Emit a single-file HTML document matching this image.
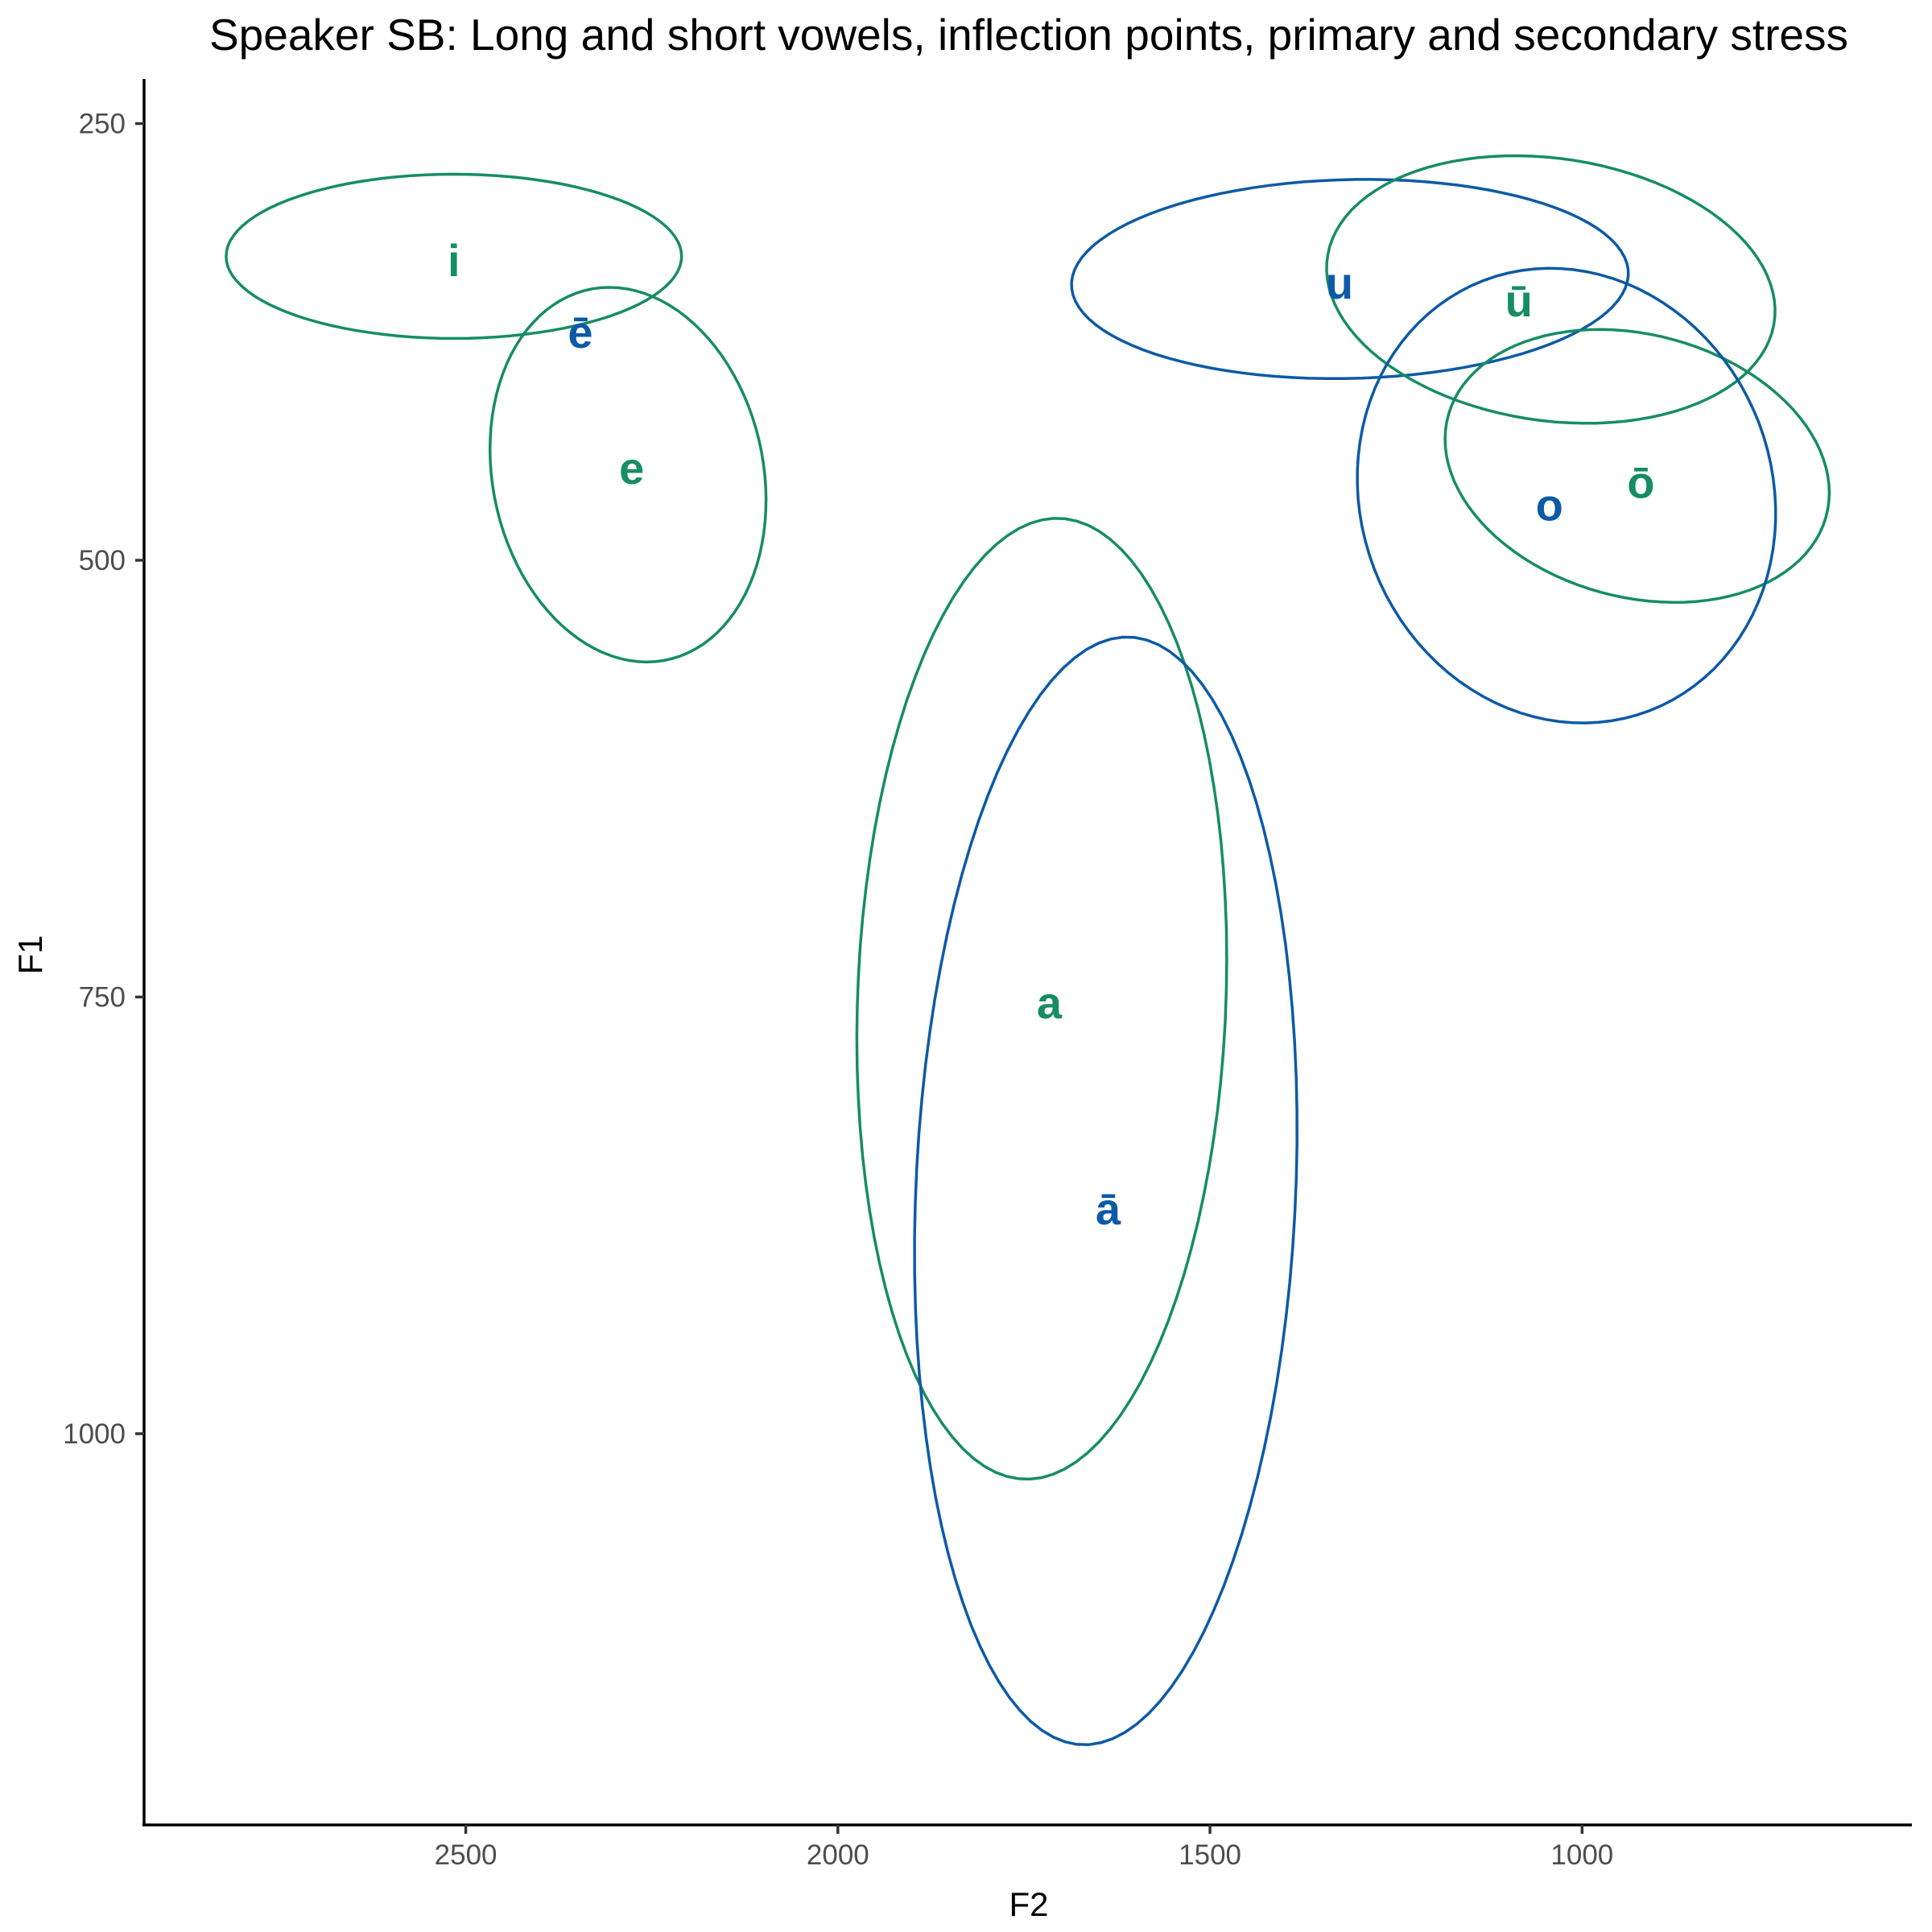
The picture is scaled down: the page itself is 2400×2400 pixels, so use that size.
<!DOCTYPE html>
<html>
<head>
<meta charset="utf-8">
<style>
html,body{margin:0;padding:0;background:#fff;}
svg{display:block;font-family:"Liberation Sans",Arial,sans-serif;}
</style>
</head>
<body>
<svg id="chart" width="2400" height="2400" viewBox="0 0 2400 2400" xmlns="http://www.w3.org/2000/svg">
<text x="1278" y="62" font-size="55" text-anchor="middle" fill="#000">Speaker SB: Long and short vowels, inflection points, primary and secondary stress</text>
<g id="axes"></g>
<g id="ellipses"></g>
<g id="labels"></g>
<text x="1278" y="2380" font-size="42" text-anchor="middle" fill="#000">F2</text>
<text x="0" y="0" font-size="42" text-anchor="middle" fill="#000" transform="translate(52,1186) rotate(-90)">F1</text>
</svg>
<script>
// Axis ticks
var xTicks = [2500, 2000, 1500, 1000];
var yTicks = [250, 500, 750, 1000];
// Vowel labels
var labelText = ["i", "ē", "e", "a", "ā", "u", "ū", "ō", "o"];
var labelF2 = [2516, 2346, 2277, 1716, 1637, 1326, 1085, 921, 1044];
var labelF1 = [329, 370, 448, 754, 872, 342, 352, 456, 469];
var labelGroup = ["short", "long", "short", "short", "long", "long", "short", "short", "long"];
// Ellipses: center and two axis vectors in data units (F2, F1)
var ellName = ["i", "e", "a", "ā", "u", "ū", "ō", "o"];
var ellGroup = ["short", "short", "short", "long", "long", "short", "short", "long"];
var ellCF2 = [2516, 2282, 1726, 1640, 1312, 1042, 926, 1021];
var ellCF1 = [326, 451, 751, 861, 339, 345, 446, 463];
var ellA2 = [-306, 13, -16, -23, -374, -301, -256, 8];
var ellA1 = [0, -107, -275, -317, -2, 15.5, 25, -130];
var ellB2 = [0, -185, -248, -256, -8, 13, 33, -281];
var ellB1 = [47, 7, -5, -7, -57, 75, 74, 6.4];

var colors = {short: "#168d62", long: "#0d5aa6"};
var NS = "http://www.w3.org/2000/svg";
function xs(v){ return 578.6 + (2500 - v) * 0.9245; }
function ys(v){ return 153.5 + (v - 250) * 2.17; }

var axes = document.getElementById("axes");
function mk(tag, attrs, parent){
  var e = document.createElementNS(NS, tag);
  for (var k in attrs) e.setAttribute(k, attrs[k]);
  parent.appendChild(e);
  return e;
}
var yl = mk("line", {x1:179, y1:98, x2:179, y2:2267, stroke:"#000", "stroke-width":3.5}, axes);


var xl = mk("line", {x1:177, y1:2267, x2:2375, y2:2267, stroke:"#000", "stroke-width":3.5}, axes);


xTicks.forEach(function(t){
  var x = xs(t);
  var tk = mk("line", {x1:x, y1:2267, x2:x, y2:2278, stroke:"#333", "stroke-width":3.5}, axes);
  
  
  var tx = mk("text", {x:x, y:2316, "font-size":35, "text-anchor":"middle", fill:"#4d4d4d"}, axes);
  tx.textContent = t;
  
  
});
yTicks.forEach(function(t){
  var y = ys(t);
  var tk = mk("line", {x1:168, y1:y, x2:179, y2:y, stroke:"#333", "stroke-width":3.5}, axes);
  
  
  var tx = mk("text", {x:156, y:y+12, "font-size":35, "text-anchor":"end", fill:"#4d4d4d"}, axes);
  tx.textContent = t;
  
  
});

var eg = document.getElementById("ellipses");
for (var i = 0; i < ellName.length; i++){
  var pts = [];
  for (var k = 0; k < 100; k++){
    var th = 2 * Math.PI * k / 100;
    var f2 = ellCF2[i] + ellA2[i] * Math.cos(th) + ellB2[i] * Math.sin(th);
    var f1 = ellCF1[i] + ellA1[i] * Math.cos(th) + ellB1[i] * Math.sin(th);
    pts.push(xs(f2).toFixed(1) + "," + ys(f1).toFixed(1));
  }
  var p = mk("polygon", {points: pts.join(" "), fill:"none", stroke: colors[ellGroup[i]], "stroke-width":3.5}, eg);
  
  
}

var lg = document.getElementById("labels");
for (var j = 0; j < labelText.length; j++){
  var t = mk("text", {x: xs(labelF2[j]), y: ys(labelF1[j]) + 18, "font-size":56, "font-weight":"bold", "text-anchor":"middle", fill: colors[labelGroup[j]]}, lg);
  t.textContent = labelText[j];
  
  
}
</script>
</body>
</html>
